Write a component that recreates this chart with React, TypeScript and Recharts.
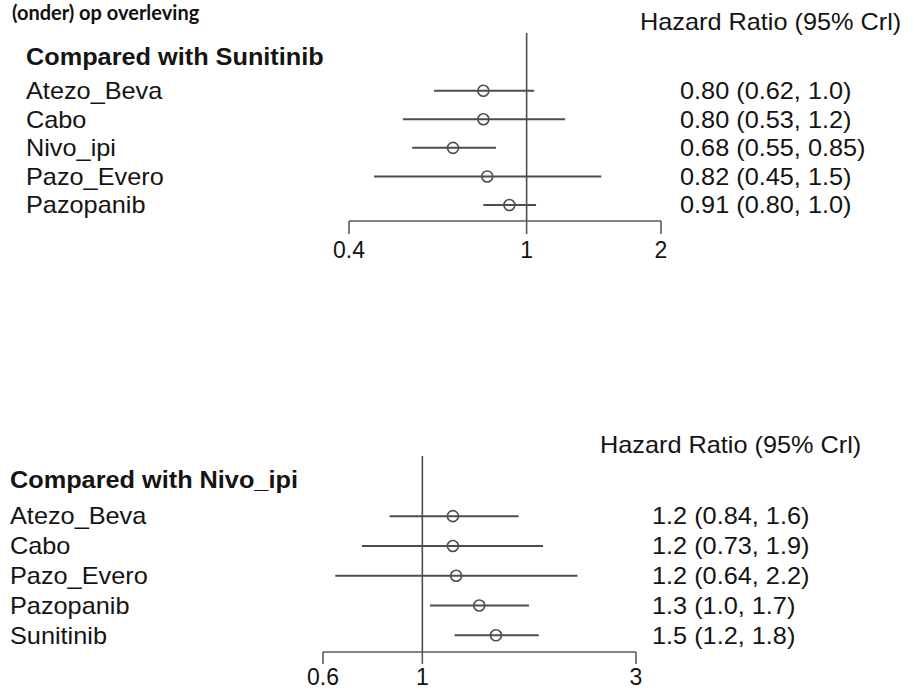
import { ComposedChart, Scatter, XAxis, YAxis, ErrorBar, ReferenceLine } from "recharts";

// bovenste paneel: vergeleken met sunitinib
const topNames = ["Atezo_Beva", "Cabo", "Nivo_ipi", "Pazo_Evero", "Pazopanib"];
const topHr = [0.8, 0.8, 0.684, 0.816, 0.915];
const topLo = [0.62, 0.528, 0.554, 0.455, 0.8];
const topHi = [1.04, 1.22, 0.854, 1.47, 1.05];
const topText = ["0.80 (0.62, 1.0)", "0.80 (0.53, 1.2)", "0.68 (0.55, 0.85)", "0.82 (0.45, 1.5)", "0.91 (0.80, 1.0)"];
const topTicks = [0.4, 1, 2];

// onderste paneel: vergeleken met nivo_ipi
const botNames = ["Atezo_Beva", "Cabo", "Pazo_Evero", "Pazopanib", "Sunitinib"];
const botHr = [1.17, 1.17, 1.19, 1.34, 1.46];
const botLo = [0.845, 0.733, 0.639, 1.04, 1.18];
const botHi = [1.64, 1.86, 2.22, 1.73, 1.82];
const botText = ["1.2 (0.84, 1.6)", "1.2 (0.73, 1.9)", "1.2 (0.64, 2.2)", "1.3 (1.0, 1.7)", "1.5 (1.2, 1.8)"];
const botTicks = [0.6, 1, 3];

const FONT = "'Liberation Sans', Arial, sans-serif";
const INK = "#141414";
const LINE = "#4d4d4d";
const SX = 1.1;

function buildRows(names: string[], hr: number[], lo: number[], hi: number[]) {
  return names.map((name, i) => ({
    name,
    row: i,
    hr: hr[i],
    err: [hr[i] - lo[i], hi[i] - hr[i]],
  }));
}

function Circle(props: any) {
  const { cx, cy } = props;
  return <circle cx={cx} cy={cy} r={5.5} fill="none" stroke={LINE} strokeWidth={1.6} />;
}

function SideTick({ y, payload, left, texts }: any) {
  return (
    <text
      transform={`translate(${left},${y}) scale(${SX},1)`}
      x={0}
      y={0}
      dy="0.36em"
      fontFamily={FONT}
      fontSize={23}
      fill={INK}
    >
      {texts[payload.value]}
    </text>
  );
}

function Panel({
  top,
  height,
  plotTop,
  plotLeft,
  plotRight,
  xAxisH,
  tickSize,
  tickGap,
  names,
  hr,
  lo,
  hi,
  texts,
  ticks,
  nameX,
  valueX,
}: any) {
  const rows = buildRows(names, hr, lo, hi);
  const idx = names.map((_: string, i: number) => i);
  const yDomain = [-2.02, 4.56];
  return (
    <div style={{ position: "absolute", left: 0, top }}>
      <ComposedChart
        width={914}
        height={height}
        data={rows}
        margin={{ top: plotTop, right: 0, bottom: 0, left: 0 }}
      >
        <XAxis
          type="number"
          dataKey="hr"
          scale="log"
          domain={[ticks[0], ticks[ticks.length - 1]]}
          allowDataOverflow
          ticks={ticks}
          interval={0}
          height={xAxisH}
          tickSize={tickSize}
          tickMargin={tickGap}
          stroke="#5a5a5a"
          strokeWidth={1.6}
          tick={{ fill: INK, fontSize: 23, fontFamily: FONT }}
        />
        <YAxis
          yAxisId="l"
          type="number"
          dataKey="row"
          domain={yDomain}
          allowDataOverflow
          reversed
          ticks={idx}
          interval={0}
          width={plotLeft}
          axisLine={false}
          tickLine={false}
          tick={<SideTick left={nameX} texts={names} />}
        />
        <YAxis
          yAxisId="r"
          orientation="right"
          type="number"
          dataKey="row"
          domain={yDomain}
          allowDataOverflow
          reversed
          ticks={idx}
          interval={0}
          width={914 - plotRight}
          axisLine={false}
          tickLine={false}
          tick={<SideTick left={valueX} texts={texts} />}
        />
        <ReferenceLine yAxisId="l" x={1} stroke={LINE} strokeWidth={1.6} />
        <Scatter yAxisId="l" dataKey="row" shape={<Circle />} isAnimationActive={false}>
          <ErrorBar dataKey="err" direction="x" width={0} stroke={LINE} strokeWidth={2} isAnimationActive={false} />
        </Scatter>
      </ComposedChart>
    </div>
  );
}

function Heading({ x, y, bold, children }: any) {
  return (
    <text
      transform={`translate(${x},${y}) scale(${SX},1)`}
      fontFamily={FONT}
      fontSize={23}
      fontWeight={bold ? 700 : 400}
      fill={INK}
    >
      {children}
    </text>
  );
}

export default function App() {
  return (
    <div
      style={{
        position: "absolute",
        left: 0,
        top: 0,
        width: 914,
        height: 693,
        background: "#fff",
        overflow: "hidden",
      }}
    >
      <Panel
        top={0}
        height={271}
        plotTop={33}
        plotLeft={349}
        plotRight={661}
        xAxisH={50}
        tickSize={13}
        tickGap={8}
        names={topNames}
        hr={topHr}
        lo={topLo}
        hi={topHi}
        texts={topText}
        ticks={topTicks}
        nameX={26}
        valueX={680}
      />
      <Panel
        top={390}
        height={303}
        plotTop={66}
        plotLeft={323}
        plotRight={636}
        xAxisH={41}
        tickSize={12}
        tickGap={5}
        names={botNames}
        hr={botHr}
        lo={botLo}
        hi={botHi}
        texts={botText}
        ticks={botTicks}
        nameX={10}
        valueX={652}
      />
      <svg width={914} height={693} style={{ position: "absolute", left: 0, top: 0, pointerEvents: "none" }}>
        <text x={12} y={20} fontFamily="Lato, 'Open Sans', sans-serif" fontWeight={700} fontSize={20} fill="#111">
          (onder) op overleving
        </text>
        <Heading x={26} y={65} bold>
          Compared with Sunitinib
        </Heading>
        <Heading x={640} y={30}>
          Hazard Ratio (95% Crl)
        </Heading>
        <Heading x={10} y={488} bold>
          Compared with Nivo_ipi
        </Heading>
        <Heading x={600} y={453}>
          Hazard Ratio (95% Crl)
        </Heading>
      </svg>
    </div>
  );
}
